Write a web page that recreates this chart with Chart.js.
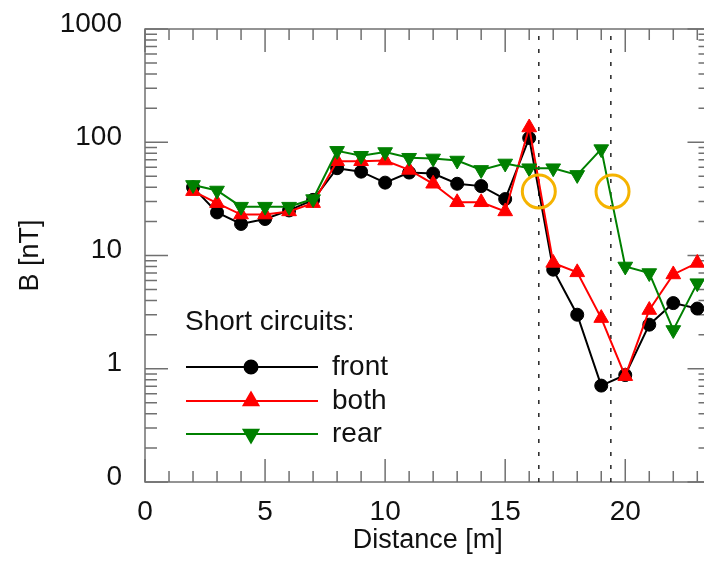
<!DOCTYPE html>
<html>
<head>
<meta charset="utf-8">
<script src="https://cdn.jsdelivr.net/npm/chart.js@4.4.1/dist/chart.umd.min.js"></script>
<style>
  html, body { margin: 0; padding: 0; background: #fff; overflow: hidden; }
  canvas { display: block; }
</style>
</head>
<body>
<!-- wider than the window: the right frame edge falls just outside the picture -->
<canvas id="bChart" width="730" height="567"></canvas>
<script>
// distances along the line [m]
const distance = [2, 3, 4, 5, 6, 7, 8, 9, 10, 11, 12, 13, 14, 15, 16, 17, 18, 19, 20, 21, 22, 23];
// B [nT] per short circuit position
const front = [40, 24, 19, 21, 25, 31, 59, 55, 44, 54, 53, 43, 41, 31.5, 109, 7.5, 3.0, 0.71, 0.88, 2.45, 3.8, 3.4];
const both = [37, 29, 23, 23, 24.5, 29, 68, 68, 69, 57, 43, 29.5, 29.5, 24.5, 135, 8.6, 7.1, 2.8, 0.86, 3.3, 6.8, 8.6];
const rear = [42, 37.5, 27, 27, 27, 31.5, 84, 76, 82, 73, 72, 69, 57, 65, 59, 59, 51.5, 87, 8.0, 7.0, 2.2, 5.7];

const xTicks = [0, 5, 10, 15, 20];
const yTicks = [0.1, 1, 10, 100, 1000];
const yLabels = ['0', '1', '10', '100', '1000'];

// dashed markers and highlighted spots
const dashX = [16.4, 19.4];
const circleX = [16.4, 19.47];
const circleY = [36.8, 36.8];

const font = 'Liberation Sans, Arial, Helvetica, sans-serif';
const axisColor = '#707070';

function toPoints(xs, ys) {
    return xs.map((x, i) => ({ x: x, y: ys[i] }));
}

function seriesSet(label, values, color, style, radius, rotation, order) {
    return {
        label: label,
        data: toPoints(distance, values),
        borderColor: color,
        backgroundColor: color,
        borderWidth: 2,
        pointStyle: style,
        pointRadius: radius,
        pointRotation: rotation,
        pointBorderWidth: 1,
        order: order
    };
}

const datasets = [
    seriesSet('front', front, '#000000', 'circle', 6.5, 0, 3),
    seriesSet('both', both, '#ff0000', 'triangle', 8.5, 0, 2),
    seriesSet('rear', rear, '#008000', 'triangle', 8.5, 180, 1)
];

dashX.forEach(function(x) {
    datasets.push({
        label: 'marker',
        data: [{ x: x, y: yTicks[0] }, { x: x, y: yTicks[yTicks.length - 1] }],
        borderColor: '#222222',
        borderWidth: 1.5,
        borderDash: [4, 9],
        pointRadius: 0,
        order: 5
    });
});

datasets.push({
    label: 'spots',
    data: toPoints(circleX, circleY),
    showLine: false,
    pointStyle: 'circle',
    pointRadius: 16.5,
    pointBorderWidth: 3,
    pointBorderColor: '#f5b300',
    pointBackgroundColor: 'rgba(0,0,0,0)',
    order: 0
});

// frame with inward ticks on all four sides
const framePlugin = {
    id: 'frame',
    beforeDatasetsDraw(chart) {
        const { ctx, chartArea: a, scales: { x, y } } = chart;
        ctx.save();
        ctx.strokeStyle = axisColor;
        ctx.lineWidth = 1.5;
        ctx.strokeRect(a.left, a.top, a.right - a.left, a.bottom - a.top);
        ctx.beginPath();
        for (let v = 0; v <= x.max; v++) {
            const px = x.getPixelForValue(v);
            const len = v % 5 === 0 ? 23 : 11;
            ctx.moveTo(px, a.bottom); ctx.lineTo(px, a.bottom - len);
            ctx.moveTo(px, a.top); ctx.lineTo(px, a.top + len);
        }
        yTicks.forEach(function(d, i) {
            const steps = i < yTicks.length - 1 ? [1, 2, 3, 4, 5, 6, 7, 8, 9] : [1];
            steps.forEach(function(k) {
                const py = y.getPixelForValue(d * k);
                const len = k === 1 ? 23 : 12;
                ctx.moveTo(a.left, py); ctx.lineTo(a.left + len, py);
                ctx.moveTo(a.right, py); ctx.lineTo(a.right - len, py);
            });
        });
        ctx.stroke();
        ctx.restore();
    }
};

// legend: line with marker in the middle, under a heading
const legendPlugin = {
    id: 'shortLegend',
    afterDatasetsDraw(chart) {
        const ctx = chart.ctx;
        ctx.save();
        ctx.font = '28px ' + font;
        ctx.fillStyle = '#111';
        ctx.textBaseline = 'middle';
        ctx.fillText('Short circuits:', 185, 322);
        const rows = [367, 401, 434];
        for (let i = 0; i < 3; i++) {
            const ds = chart.data.datasets[i];
            const yy = rows[i];
            ctx.strokeStyle = ds.borderColor;
            ctx.lineWidth = 2;
            ctx.beginPath();
            ctx.moveTo(186, yy);
            ctx.lineTo(318, yy);
            ctx.stroke();
            Chart.helpers.drawPoint(ctx, {
                pointStyle: ds.pointStyle,
                radius: ds.pointRadius,
                rotation: ds.pointRotation,
                borderWidth: 1
            }, 251, yy);
            ctx.fillStyle = ds.backgroundColor;
            ctx.fill();
            ctx.fillStyle = '#111';
            ctx.fillText(ds.label, 332, yy);
        }
        ctx.restore();
    }
};

const ctx = document.getElementById('bChart').getContext('2d');
new Chart(ctx, {
    type: 'line',
    data: { datasets: datasets },
    options: {
        responsive: false,
        animation: false,
        devicePixelRatio: 1,
        layout: { padding: { top: 29, right: 0, left: 0, bottom: 0 } },
        plugins: {
            legend: { display: false },
            tooltip: { enabled: false }
        },
        scales: {
            x: {
                type: 'linear',
                min: 0,
                max: 23.55,
                grid: { display: false },
                border: { display: false },
                afterBuildTicks: function(s) { s.ticks = xTicks.map(v => ({ value: v })); },
                afterFit: function(s) {
                    s.height = 85;
                    s.paddingLeft = 0;
                    s.paddingRight = 0;
                },
                ticks: {
                    color: '#111',
                    padding: 5,
                    font: { family: font, size: 28 }
                },
                title: {
                    display: true,
                    text: 'Distance [m]',
                    color: '#111',
                    padding: { top: 0, bottom: 10 },
                    font: { family: font, size: 27 }
                }
            },
            y: {
                type: 'logarithmic',
                min: 0.1,
                max: 1000,
                grid: { display: false },
                border: { display: false },
                afterBuildTicks: function(s) { s.ticks = yTicks.map(v => ({ value: v })); },
                afterFit: function(s) {
                    s.width = 145;
                    s.paddingTop = 0;
                    s.paddingBottom = 0;
                },
                ticks: {
                    color: '#111',
                    padding: 15,
                    labelOffset: -5,
                    font: { family: font, size: 28 },
                    callback: function(v, i) { return yLabels[i]; }
                },
                title: {
                    display: true,
                    text: 'B [nT]',
                    color: '#111',
                    padding: { top: 14, bottom: 0 },
                    font: { family: font, size: 27 }
                }
            }
        }
    },
    plugins: [framePlugin, legendPlugin]
});
</script>
</body>
</html>
